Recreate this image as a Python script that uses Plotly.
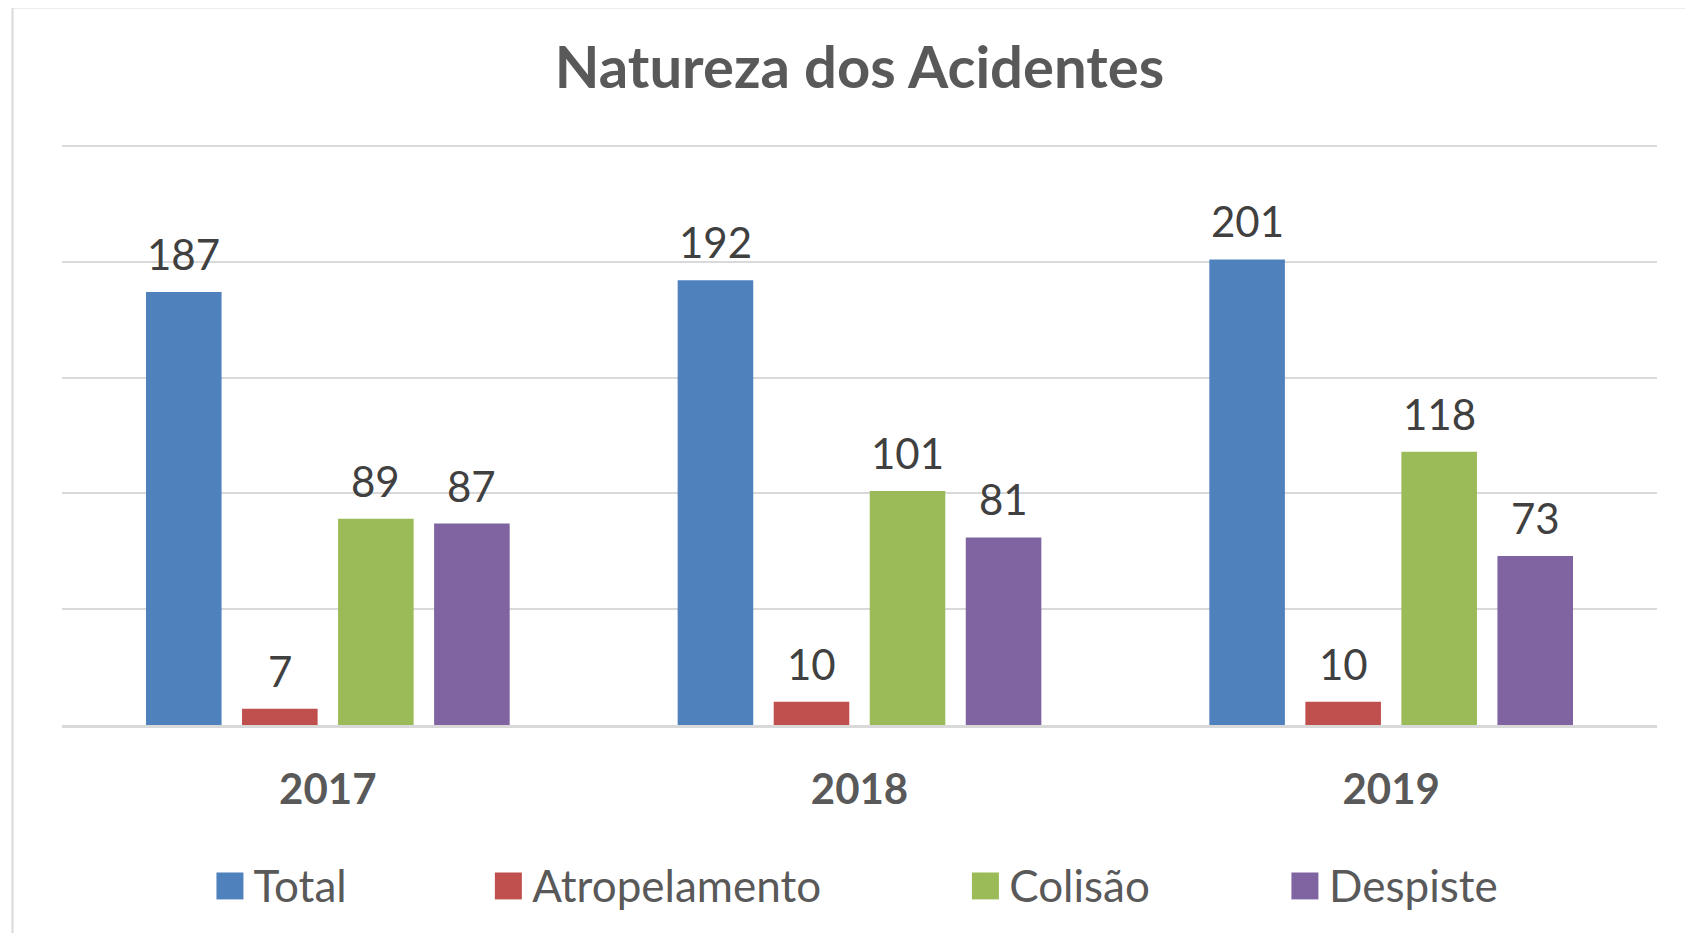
import plotly.graph_objects as go

# ---- data ----
years = ["2017", "2018", "2019"]
series_names = ["Total", "Atropelamento", "Colisão", "Despiste"]
total = [187, 192, 201]
atropelamento = [7, 10, 10]
colisao = [89, 101, 118]
despiste = [87, 81, 73]

colors = ["#4F81BD", "#C0504D", "#9BBB59", "#8064A2"]
values = [total, atropelamento, colisao, despiste]

# page is offset by the default 8px body margin
OFF = 8
W, H = 1693 - 2 * OFF, 941 - 2 * OFF
# plot area in page pixels
PL, PR, PT, PB = 61.5, 1657, 143, 727
ML, MT = PL - OFF, PT - OFF
MR = W - (PR - OFF)
MB = H - (PB - OFF)
PW = W - ML - MR
PH = H - MT - MB
YMAX = 250 * PH / (PB - 146)  # gridline 250 sits at page y=146

BARGAP, BARGROUPGAP = 0.2775, 0.213


def px_x(px):
    return (px - OFF - ML) / PW


def px_y(py):
    return (H - MB - (py - OFF)) / PH


FONT = "Lato"
fig = go.Figure()
legend_x_px = [213, 492, 969, 1289]
swatch_x_px = [216, 494.5, 971.7, 1291.3]
SW = 27
SW_Y0, SW_Y1 = 875, 902
legend_keys = ["legend", "legend2", "legend3", "legend4"]
for name, vals, col, lk in zip(series_names, values, colors, legend_keys):
    fig.add_trace(go.Bar(
        name=name, x=years, y=vals, marker=dict(color=col, line=dict(width=0)),
        legend=lk, cliponaxis=False,
    ))

# data labels above bars (category axis: annotation x is the category index)
n = len(series_names)
slot_px = PW / len(years) * (1 - BARGAP) / n
for i, vals in enumerate(values):
    for j, v in enumerate(vals):
        fig.add_annotation(x=j, y=v, text=str(v), showarrow=False,
                           xref="x", yref="y", yanchor="bottom",
                           xshift=(i - (n - 1) / 2) * slot_px, yshift=11,
                           font=dict(family=FONT, size=42, color="#404040"))

legend_common = dict(orientation="h", yanchor="middle", xanchor="left",
                     y=px_y(888), font=dict(family=FONT, size=44, color="#595959"),
                     bgcolor="rgba(0,0,0,0)")
layout_legends = {}
for lk, lx in zip(legend_keys, legend_x_px):
    layout_legends[lk] = dict(legend_common, x=px_x(lx))

fig.update_layout(
    width=W, height=H,
    margin=dict(l=ML, r=MR, t=MT, b=MB),
    paper_bgcolor="white", plot_bgcolor="white",
    bargap=BARGAP, bargroupgap=BARGROUPGAP, barmode="group",
    title=dict(text="<b>Natureza dos Acidentes</b>", x=0.5, xref="paper", xanchor="center",
               y=1 - (68 - OFF) / H, yanchor="middle",
               font=dict(family=FONT, size=58, color="#595959")),
    xaxis=dict(type="category", range=[-0.5, len(years) - 0.5], showgrid=False,
               showline=True, linecolor="#D9D9D9", linewidth=3,
               ticks="", ticklabelstandoff=26,
               tickfont=dict(family=FONT, size=42, color="#595959", weight="bold")),
    yaxis=dict(range=[0, YMAX], tickvals=[50, 100, 150, 200, 250], showgrid=True,
               gridcolor="#D9D9D9", gridwidth=2,
               showticklabels=False, zeroline=False, showline=False, fixedrange=True),
    showlegend=True,
    **layout_legends,
)

# enlarged legend swatches (Excel-style square keys)
for col, sx in zip(colors, swatch_x_px):
    fig.add_shape(type="rect", xref="paper", yref="paper",
                  x0=px_x(sx), x1=px_x(sx + SW), y0=px_y(SW_Y1), y1=px_y(SW_Y0),
                  line=dict(width=0), fillcolor=col, layer="above")

fig.add_shape(type="rect", xref="paper", yref="paper",
              x0=px_x(12), x1=px_x(1693 + 20), y0=px_y(941 + 20), y1=px_y(7),
              line=dict(color="#D9D9D9", width=2), fillcolor="rgba(0,0,0,0)", layer="below")

fig.write_html("out.html")
